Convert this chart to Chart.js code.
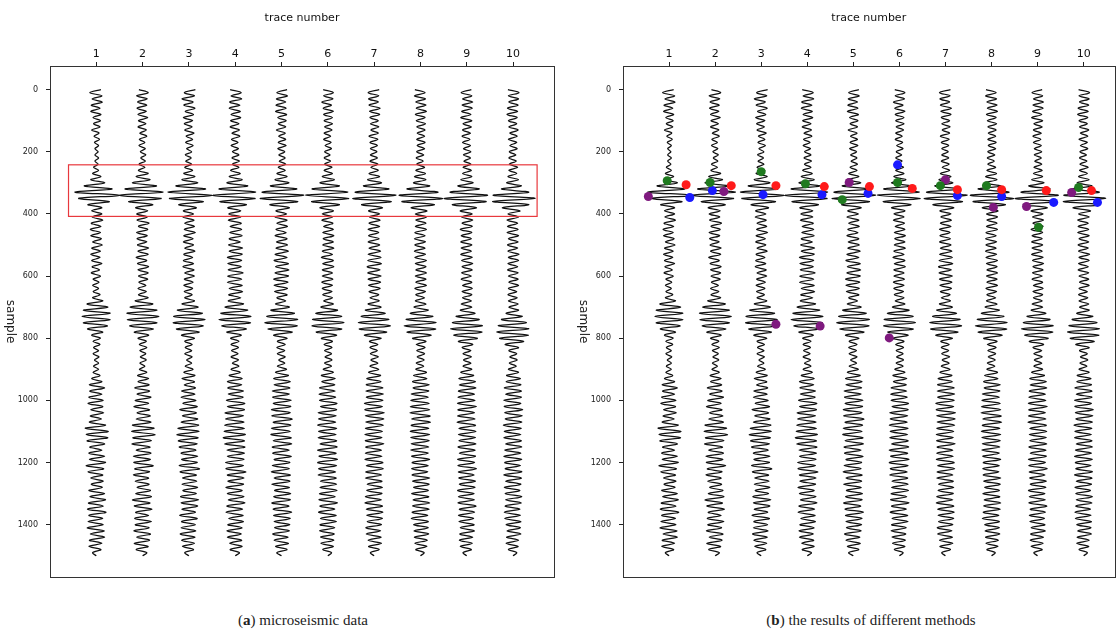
<!DOCTYPE html>
<html>
<head>
<meta charset="utf-8">
<script src="https://cdn.jsdelivr.net/npm/chart.js@4.4.1/dist/chart.umd.min.js"></script>
<style>
  body { margin: 0; background: #fff; width: 1119px; height: 635px; position: relative; overflow: hidden; }
  .panel { position: absolute; top: 0; height: 590px; }
  #panelA { left: 0; width: 560px; }
  #panelB { left: 573px; width: 546px; }
  .cap { position: absolute; top: 612px; font-family: 'Liberation Serif', 'DejaVu Serif', serif; font-size: 15px; color: #222; white-space: nowrap; transform: translateX(-50%); }
</style>
</head>
<body>
<div class="panel" id="panelA"><canvas id="chartA"></canvas></div>
<div class="panel" id="panelB"><canvas id="chartB"></canvas></div>
<div class="cap" style="left:303px">(<b>a</b>) microseismic data</div>
<div class="cap" style="left:871px">(<b>b</b>) the results of different methods</div>
<script>
// amplitude of each trace, one value every 10 samples (0..1500), in % of trace spacing
const sampleStep = 10;
const traceNumbers = [1, 2, 3, 4, 5, 6, 7, 8, 9, 10];
const sampleTicks = [0, 200, 400, 600, 800, 1000, 1200, 1400];

const trace1 = [
  10,-14,12,-9,13,-11,8,-12,10,-7,
  9,-6,8,-10,6,-5,7,-4,5,-3,
  4,-3,5,-3,4,-6,5,-8,10,-12,
  18,-26,34,-46,50,-38,28,-18,12,-10,
  12,-9,14,-11,10,-13,9,-12,11,-8,
  13,-10,9,-12,8,-10,12,-9,7,-11,
  9,-7,6,-8,5,-7,8,-8,14,-20,
  25,-28,30,-31,30,-28,24,-19,14,-10,
  9,-7,8,-6,5,-7,6,-4,5,-6,
  5,-7,8,-10,12,-15,18,-14,12,-16,
  15,-18,14,-12,16,-13,11,-15,20,-24,
  26,-22,25,-20,18,-14,12,-16,18,-15,
  20,-22,16,-18,14,-12,15,-11,13,-16,
  18,-14,20,-17,15,-19,21,-16,14,-18,
  15,-20,17,-13,18,-15,12,-16,10,-8,
  0];
const trace2 = [
  -8,12,-13,10,-11,9,-12,8,-10,11,
  -9,7,-10,8,-6,9,-7,5,-8,6,
  -5,7,-4,6,-8,5,-9,12,-14,16,
  -22,30,-38,44,-50,40,-30,22,-15,11,
  -13,10,-12,14,-9,11,-13,10,-12,9,
  -11,13,-10,12,-14,9,-11,13,-10,12,
  -9,11,-8,7,-10,8,-9,12,-16,22,
  -27,31,-34,35,-33,31,-28,23,-18,13,
  -10,8,-7,9,-6,7,-5,8,-6,5,
  -7,9,-11,13,-10,14,-17,15,-12,18,
  -16,13,-19,15,-12,17,-14,18,-22,25,
  -24,27,-21,19,-23,16,-14,18,-20,17,
  -19,23,-17,15,-20,13,-16,14,-12,17,
  -15,19,-22,16,-18,20,-15,13,-17,19,
  -16,14,-19,17,-13,15,-18,12,-14,9,
  0];
const trace3 = [
  14,-10,12,-15,9,-11,13,-8,10,-12,
  8,-10,7,-9,11,-6,8,-7,9,-5,
  6,-8,5,-7,6,-9,8,-11,13,-15,
  19,-28,36,-45,50,-42,31,-22,16,-12,
  10,-13,11,-9,12,-10,14,-11,9,-12,
  10,-9,13,-11,8,-12,10,-13,11,-9,
  12,-10,9,-11,8,-10,7,-9,12,-15,
  20,-25,29,-33,35,-34,31,-27,22,-16,
  12,-9,7,-8,6,-9,7,-5,6,-8,
  9,-11,13,-15,12,-10,14,-16,13,-17,
  15,-13,18,-20,16,-14,19,-17,21,-24,
  22,-26,20,-23,18,-21,15,-17,19,-16,
  18,-21,23,-19,16,-14,17,-15,19,-13,
  16,-18,21,-17,19,-15,14,-20,18,-16,
  14,-17,15,-19,13,-16,12,-14,10,-9,
  0];
const trace4 = [
  -11,13,-9,14,-12,10,-13,11,-9,12,
  -10,8,-11,9,-7,10,-8,6,-9,7,
  -6,8,-7,9,-6,8,-10,11,-13,15,
  -18,27,-35,44,-49,43,-33,24,-16,12,
  -14,12,-15,13,-11,14,-12,15,-13,11,
  -14,16,-13,15,-17,14,-16,13,-15,17,
  -16,14,-17,15,-13,16,-14,12,-15,18,
  -22,27,-31,34,-35,33,-29,24,-18,13,
  -10,8,-9,7,-8,6,-9,7,-6,8,
  -9,11,-13,15,-17,14,-16,18,-15,17,
  -19,21,-17,20,-22,18,-21,19,-23,20,
  -24,22,-26,20,-23,21,-18,20,-17,19,
  -21,18,-20,23,-17,19,-16,18,-20,15,
  -17,19,-15,21,-18,16,-20,17,-14,18,
  -16,15,-18,13,-17,14,-12,15,-11,9,
  0];
const trace5 = [
  12,-10,13,-11,9,-12,10,-13,11,-8,
  10,-7,9,-11,8,-6,9,-7,10,-8,
  7,-6,8,-5,9,-7,8,-10,12,-14,
  16,-24,33,-42,48,-46,35,-25,17,-12,
  11,-14,12,-10,13,-12,10,-14,12,-11,
  13,-12,15,-14,12,-16,15,-13,16,-14,
  15,-17,14,-16,13,-15,12,-10,9,-13,
  17,-23,28,-32,35,-36,34,-29,23,-17,
  12,-9,8,-10,7,-9,8,-6,7,-9,
  11,-13,15,-17,19,-16,18,-20,17,-19,
  21,-18,20,-22,19,-21,23,-18,20,-22,
  19,-23,21,-18,22,-20,17,-19,21,-16,
  18,-20,17,-22,19,-16,18,-21,17,-15,
  20,-17,19,-21,16,-18,22,-17,19,-16,
  18,-15,17,-19,14,-16,15,-13,12,-10,
  0];
const trace6 = [
  -10,12,-9,11,-13,8,-10,12,-9,10,
  -8,10,-7,9,-8,6,-9,7,-6,8,
  -7,5,-8,6,-7,9,-8,10,-12,14,
  -17,25,-34,43,-48,45,-35,25,-17,12,
  -12,10,-13,11,-9,12,-11,13,-10,12,
  -11,13,-12,10,-14,12,-11,13,-12,10,
  -12,11,-13,10,-12,9,-11,10,-9,12,
  -15,21,-26,30,-33,35,-34,30,-25,19,
  -14,10,-8,9,-7,8,-6,9,-7,8,
  -10,12,-14,16,-13,15,-18,16,-19,17,
  -18,20,-16,19,-21,18,-20,17,-22,19,
  -20,18,-21,19,-17,20,-22,18,-19,21,
  -22,19,-20,17,-21,18,-16,19,-17,20,
  -18,16,-19,21,-17,15,-20,18,-16,19,
  -17,15,-18,14,-16,13,-15,12,-11,8,
  0];
const trace7 = [
  11,-13,10,-12,9,-11,13,-10,12,-9,
  9,-8,10,-7,9,-11,8,-9,7,-8,
  6,-8,7,-9,8,-7,9,-11,12,-14,
  16,-23,32,-41,47,-46,37,-27,18,-12,
  12,-10,13,-11,12,-13,10,-12,11,-13,
  12,-11,14,-13,15,-14,16,-15,13,-14,
  15,-13,14,-12,13,-11,10,-9,11,-13,
  15,-19,24,-28,32,-34,35,-32,27,-21,
  15,-10,8,-9,7,-8,9,-7,8,-9,
  10,-12,14,-16,15,-17,19,-18,20,-17,
  19,-21,18,-20,22,-19,21,-18,20,-19,
  18,-20,17,-19,21,-18,16,-19,17,-20,
  19,-17,20,-18,16,-19,17,-15,18,-16,
  17,-19,16,-20,18,-17,19,-16,18,-15,
  16,-18,14,-17,15,-13,16,-12,11,-8,
  0];
const trace8 = [
  -12,10,-13,11,-10,12,-9,13,-11,10,
  -9,11,-8,10,-7,9,-8,10,-7,9,
  -8,7,-9,6,-8,9,-10,11,-13,12,
  -15,20,-29,38,-46,48,-40,30,-20,14,
  -11,13,-10,12,-11,13,-12,10,-13,11,
  -12,10,-13,11,-12,13,-11,12,-10,13,
  -11,12,-10,13,-12,11,-10,9,-11,12,
  -14,17,-22,27,-31,34,-35,33,-29,23,
  -17,12,-9,10,-8,9,-7,8,-9,7,
  -10,13,-15,14,-17,19,-16,18,-20,17,
  -21,19,-22,20,-23,21,-19,22,-20,18,
  -22,20,-21,19,-20,18,-21,17,-19,20,
  -18,17,-19,16,-18,20,-17,19,-15,17,
  -19,18,-16,20,-17,19,-18,16,-20,17,
  -15,17,-14,18,-13,15,-12,14,-10,8,
  0];
const trace9 = [
  10,-12,11,-9,13,-10,12,-11,9,-13,
  11,-8,10,-9,8,-10,7,-9,8,-7,
  9,-7,8,-6,9,-8,10,-9,11,-13,
  14,-19,27,-36,45,-49,42,-31,21,-14,
  12,-11,13,-10,12,-14,11,-12,10,-13,
  11,-12,10,-13,12,-11,13,-10,12,-11,
  10,-12,11,-9,12,-10,11,-9,10,-12,
  11,-14,18,-23,27,-31,34,-35,33,-28,
  23,-18,13,-10,9,-8,10,-7,9,-8,
  11,-13,15,-17,19,-16,20,-18,17,-19,
  18,-20,21,-19,17,-20,18,-21,19,-17,
  20,-18,19,-17,20,-19,18,-16,19,-20,
  17,-19,21,-18,16,-17,19,-16,18,-20,
  16,-18,17,-19,20,-16,17,-18,15,-17,
  16,-14,17,-15,13,-16,12,-14,10,-8,
  0];
const trace10 = [
  -11,13,-10,12,-9,11,-12,10,-13,9,
  -10,8,-9,11,-7,9,-10,8,-7,9,
  -8,6,-9,7,-8,10,-9,8,-11,12,
  -14,18,-25,34,-43,48,-44,34,-23,15,
  -11,12,-13,10,-12,11,-13,12,-10,11,
  -12,10,-11,13,-10,12,-11,10,-12,11,
  -10,11,-9,12,-10,8,-11,9,-10,11,
  -9,12,-15,20,-25,29,-32,34,-35,33,
  -29,23,-17,12,-9,8,-7,9,-8,7,
  -10,12,-14,16,-15,17,-19,18,-16,18,
  -20,17,-19,21,-18,20,-17,19,-21,18,
  -19,17,-20,18,-16,19,-18,17,-20,19,
  -18,16,-17,19,-20,18,-16,17,-19,15,
  -17,19,-16,18,-17,15,-19,16,-18,17,
  -15,16,-13,17,-14,12,-15,11,-10,8,
  0];
const traces = [trace1, trace2, trace3, trace4, trace5, trace6, trace7, trace8, trace9, trace10];

// picks of the different methods (panel b): x in trace units, y in samples
const greenX = [0.96, 1.89, 3.00, 3.96, 4.76, 5.96, 6.89, 7.89, 9.02, 9.89];
const greenY = [293, 299, 264, 303, 354, 299, 309, 309, 443, 315];
const redX = [1.37, 2.35, 3.32, 4.37, 5.35, 6.28, 7.26, 8.22, 9.19, 10.17];
const redY = [306, 309, 309, 312, 312, 318, 322, 322, 325, 325];
const blueX = [1.45, 1.94, 3.04, 4.32, 5.32, 5.96, 7.26, 8.22, 9.35, 10.30];
const blueY = [347, 325, 338, 338, 334, 242, 341, 344, 363, 363];
const purpleX = [0.55, 2.19, 3.32, 4.28, 4.91, 5.78, 7.00, 8.04, 8.76, 9.74];
const purpleY = [344, 328, 755, 761, 299, 799, 290, 379, 376, 331];

// window of the first arrival (red box in panel a)
const boxX = [0.40, 10.52];
const boxY = [242, 408];

const fontFam = "'DejaVu Sans', sans-serif";

function traceSets() {
  return traces.map((amp, k) => ({
    data: amp.map((a, i) => ({ x: traceNumbers[k] + a / 100, y: i * sampleStep })),
    showLine: true,
    borderColor: '#111',
    borderWidth: 1.25,
    pointRadius: 0,
    tension: 0.35,
    order: 2
  }));
}

function pickSet(xs, ys, color) {
  return {
    data: xs.map((x, i) => ({ x: x, y: ys[i] })),
    showLine: false,
    pointRadius: 4.5,
    pointBackgroundColor: color,
    pointBorderWidth: 0,
    order: 1
  };
}

const frame = {
  id: 'frame',
  afterDraw(chart) {
    const { ctx, chartArea: a } = chart;
    ctx.save();
    ctx.strokeStyle = '#333';
    ctx.lineWidth = 1;
    ctx.strokeRect(Math.round(a.left) + 0.5, Math.round(a.top) + 0.5, Math.round(a.right - a.left), Math.round(a.bottom - a.top));
    // y title, rotated clockwise
    ctx.translate(10, (a.top + a.bottom) / 2);
    ctx.rotate(Math.PI / 2);
    ctx.fillStyle = '#222';
    ctx.font = '12px ' + fontFam;
    ctx.textAlign = 'center';
    ctx.textBaseline = 'middle';
    ctx.fillText('sample', 0, 0);
    ctx.restore();
  }
};

const redBox = {
  id: 'redBox',
  afterDatasetsDraw(chart) {
    const { ctx, scales: { x, y } } = chart;
    ctx.save();
    ctx.strokeStyle = '#e8383d';
    ctx.lineWidth = 1.2;
    const l = x.getPixelForValue(boxX[0]), r = x.getPixelForValue(boxX[1]);
    const t = y.getPixelForValue(boxY[0]), b = y.getPixelForValue(boxY[1]);
    ctx.strokeRect(l, t, r - l, b - t);
    ctx.restore();
  }
};

function makeChart(id, datasets, xMax, padRight, plugins) {
  return new Chart(document.getElementById(id), {
    type: 'scatter',
    data: { datasets: datasets },
    options: {
      responsive: true,
      maintainAspectRatio: false,
      animation: false,
      layout: { padding: { top: 0, left: 0, right: padRight, bottom: 7 } },
      plugins: { legend: { display: false }, tooltip: { enabled: false } },
      scales: {
        x: {
          type: 'linear',
          position: 'top',
          min: 0,
          max: xMax,
          afterBuildTicks: s => { s.ticks = traceNumbers.map(v => ({ value: v })); },
          afterFit: s => { s.height = 66; },
          grid: { drawOnChartArea: false, tickLength: 4, color: '#222' },
          border: { display: false },
          ticks: { autoSkip: false, maxRotation: 0, padding: 1, color: '#111', font: { family: fontFam, size: 11 },
                   callback: v => String(v) },
          title: { display: true, text: 'trace number', color: '#111', font: { family: fontFam, size: 11 }, padding: { top: 12, bottom: 0 } }
        },
        y: {
          type: 'linear',
          reverse: true,
          min: -76,
          max: 1569,
          afterBuildTicks: s => { s.ticks = sampleTicks.map(v => ({ value: v })); },
          afterFit: s => { s.width = 50; },
          grid: { drawOnChartArea: false, tickLength: 4, color: '#222' },
          border: { display: false },
          ticks: { padding: 8, color: '#222', font: { family: fontFam, size: 8 }, callback: v => String(v) }
        }
      }
    },
    plugins: plugins
  });
}

makeChart('chartA', traceSets(), 10.885, 6, [frame, redBox]);

const picks = [
  pickSet(greenX, greenY, '#1f7a1f'),
  pickSet(redX, redY, '#ff1a1a'),
  pickSet(purpleX, purpleY, '#7f1a7f'),
  pickSet(blueX, blueY, '#1a1aff')
];
makeChart('chartB', picks.concat(traceSets()), 10.67, 2, [frame]);
</script>
</body>
</html>
